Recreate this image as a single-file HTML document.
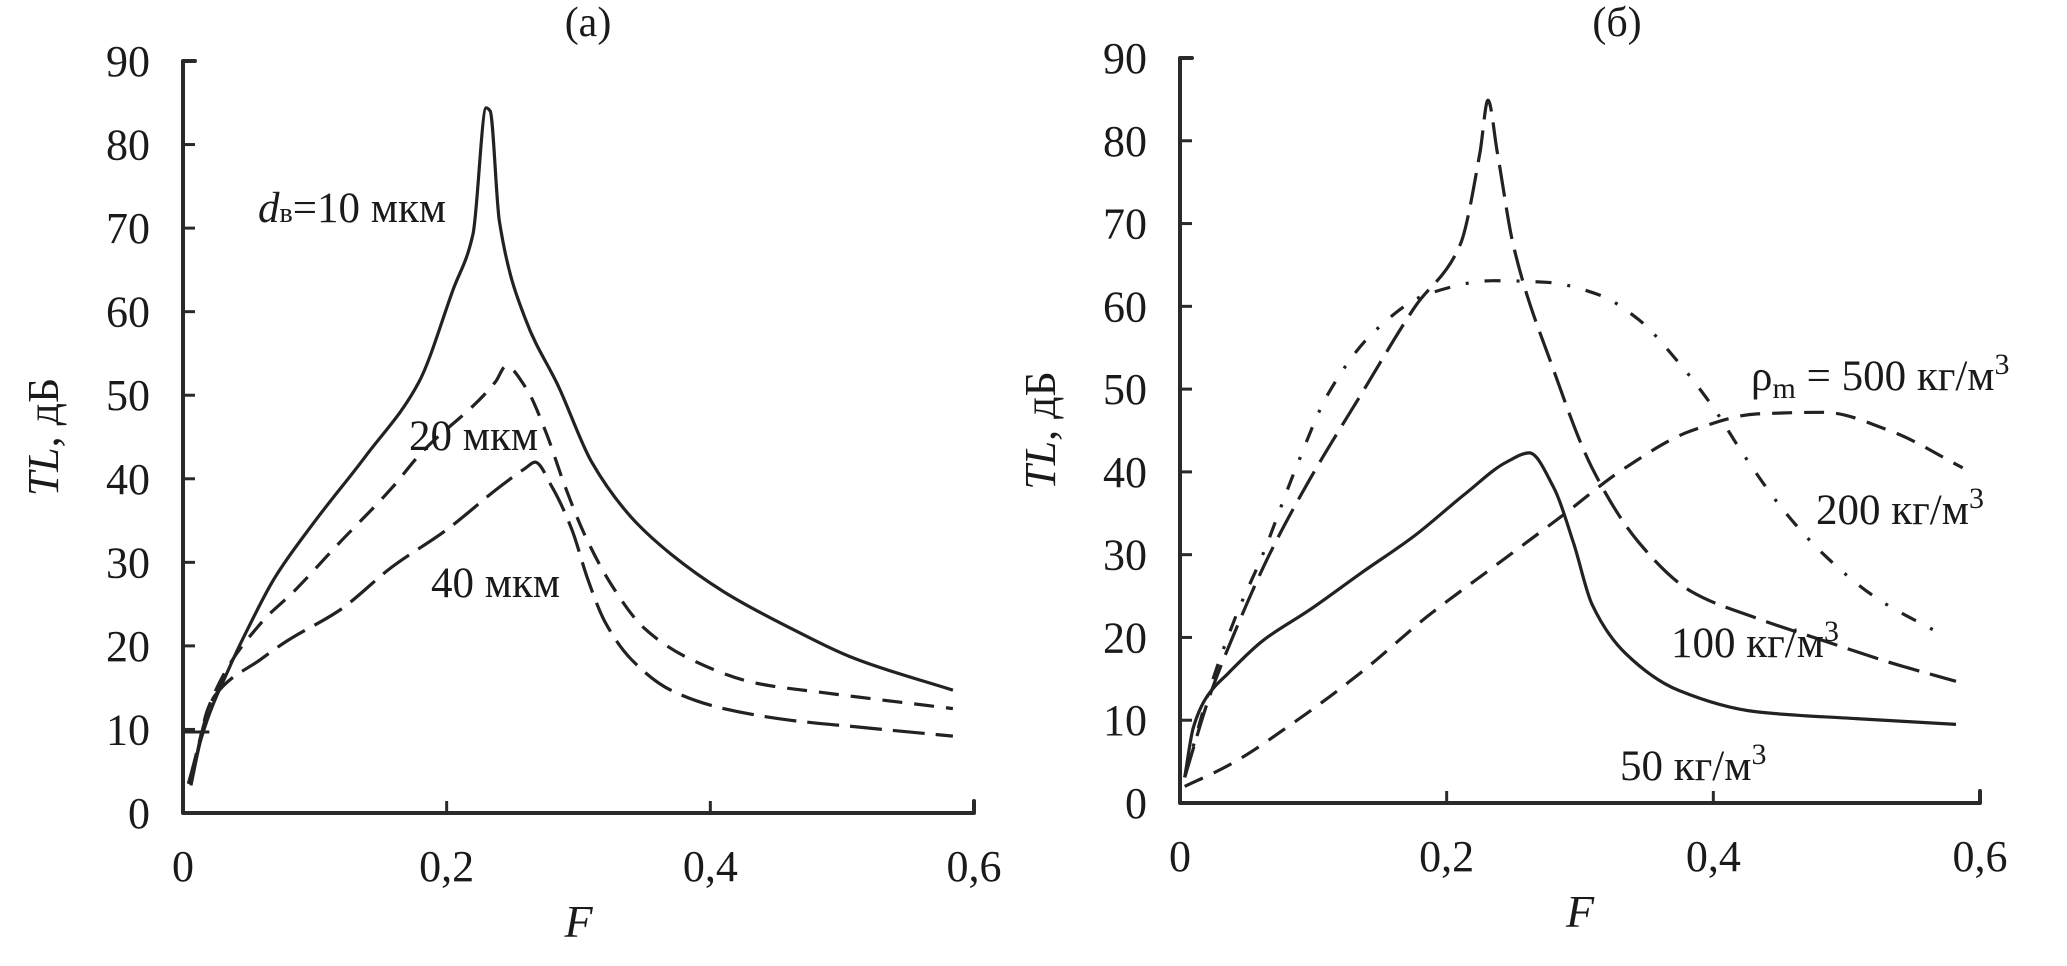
<!DOCTYPE html>
<html><head><meta charset="utf-8">
<style>
html,body{margin:0;padding:0;background:#fff;}
svg{display:block;}
text{font-family:"Liberation Serif","DejaVu Serif",serif;fill:#1a1a1a;}
</style></head>
<body>
<svg id="chart" width="2067" height="966" viewBox="0 0 2067 966" xmlns="http://www.w3.org/2000/svg"></svg>
<script>
// ---- data (a) ----
const xTicks = [0, 0.2, 0.4, 0.6];
const xTickLabels = ["0", "0,2", "0,4", "0,6"];
const yTicks = [0,10,20,30,40,50,60,70,80,90];
const aF10 = [0.006,0.0136,0.036,0.049,0.069,0.099,0.139,0.179,0.205,0.22,0.23,0.233,0.24,0.26,0.285,0.31,0.34,0.37,0.41,0.461,0.511,0.584];
const aTL10 = [3.3,8.8,17.7,22,28,34.7,42.8,51.6,62.7,69.3,84.4,84,70.8,59,51,42,35.4,31,26.5,22.1,18.4,14.7];
const aF20 = [0.006,0.019,0.059,0.084,0.119,0.159,0.179,0.237,0.245,0.26,0.275,0.29,0.305,0.325,0.35,0.385,0.436,0.486,0.584];
const aTL20 = [3.5,12.5,22.7,26.5,32.4,39,42.8,51.6,53.5,50.9,45.7,39,33.2,27.3,22.1,18.4,15.5,14.4,12.5];
const aF40 = [0.004,0.024,0.059,0.079,0.119,0.159,0.2,0.24,0.26,0.267,0.28,0.295,0.307,0.32,0.34,0.37,0.41,0.461,0.511,0.584];
const aTL40 = [3.5,14,18.4,20.6,24.3,29.5,33.9,39,41.3,42,39,33.9,28,22.9,18.4,14.7,12.5,11.1,10.3,9.2];
// ---- data (б) ----
const bF50 = [0.0035,0.01,0.02,0.037,0.062,0.097,0.136,0.176,0.215,0.245,0.262,0.28,0.295,0.309,0.334,0.374,0.433,0.507,0.582];
const bTL50 = [3.1,9.1,12.8,15.8,19.6,23.3,27.8,32.3,37.5,41.2,42.3,38.2,31.5,24,18.1,13.6,11,10.2,9.5];
const bF100 = [0.0035,0.022,0.042,0.067,0.097,0.136,0.176,0.21,0.225,0.231,0.238,0.25,0.28,0.309,0.344,0.384,0.433,0.483,0.532,0.582];
const bTL100 = [3.1,12.8,21,30,39,49.4,59.9,67.4,78.6,84.9,78.6,67.4,52.4,40.5,31.5,25.5,22.3,19.6,17,14.7];
const bF200 = [0.0035,0.022,0.042,0.062,0.087,0.111,0.146,0.186,0.235,0.275,0.314,0.344,0.374,0.399,0.423,0.453,0.483,0.522,0.572];
const bTL200 = [3.1,13.6,22.6,30,40.5,49.4,57,61.5,63.1,62.9,61.4,58.4,53.2,48,42,35.3,30,24.8,20.3];
const bF500 = [0.0035,0.037,0.087,0.136,0.186,0.235,0.285,0.334,0.384,0.433,0.483,0.532,0.587];
const bTL500 = [2,4.6,9.9,15.8,22.6,28.5,34.5,40.5,45,47,47.2,45,40.5];

const NS = "http://www.w3.org/2000/svg";
const svg = document.getElementById('chart');
function mk(tag, attrs, parent){
  const e = document.createElementNS(NS, tag);
  for (const k in attrs) e.setAttribute(k, attrs[k]);
  (parent||svg).appendChild(e);
  return e;
}
// monotone cubic (Fritsch-Carlson) in screen coords, x increasing
function smooth(pts){
  const n = pts.length, dx=[], m=[], t=[];
  for (let i=0;i<n-1;i++){ dx[i]=pts[i+1][0]-pts[i][0]; m[i]=(pts[i+1][1]-pts[i][1])/dx[i]; }
  t[0]=m[0]; t[n-1]=m[n-2];
  for (let i=1;i<n-1;i++){
    if (m[i-1]*m[i]<=0) t[i]=0;
    else { const w1=2*dx[i]+dx[i-1], w2=dx[i]+2*dx[i-1]; t[i]=(w1+w2)/(w1/m[i-1]+w2/m[i]); }
  }
  let d = "M"+pts[0][0].toFixed(1)+","+pts[0][1].toFixed(1);
  for (let i=0;i<n-1;i++){
    const h=dx[i]/3;
    d+=" C"+(pts[i][0]+h).toFixed(1)+","+(pts[i][1]+t[i]*h).toFixed(1)+" "+(pts[i+1][0]-h).toFixed(1)+","+(pts[i+1][1]-t[i+1]*h).toFixed(1)+" "+pts[i+1][0].toFixed(1)+","+pts[i+1][1].toFixed(1);
  }
  return d;
}
function panel(p){
  const g = mk('g', {});
  
  
  const sx = v => p.x0 + (p.x1-p.x0)*v/0.6;
  const sy = v => p.y0 - (p.y0-p.y90)*v/90;
  const ax = mk('path', {d:`M${p.x0+12},${p.y90} H${p.x0} V${p.y0} H${p.x1} V${p.y0-12}`, fill:'none', stroke:'#2a2a2a','stroke-width':4,'stroke-linejoin':'round','stroke-linecap':'round'}, g);
  
  
  yTicks.forEach(v=>{
    const tk = mk('line',{x1:p.x0,x2:p.x0+12,y1:sy(v),y2:sy(v),stroke:'#2a2a2a','stroke-width':3},g);
    
    
    const t = mk('text',{x:p.x0-33,y:sy(v)+15,'text-anchor':'end','font-size':44},g);
    t.textContent = String(v);
    
    
  });
  xTicks.forEach((v,i)=>{
    if (v>0 && v<0.6){
      const tk = mk('line',{x1:sx(v),x2:sx(v),y1:p.y0,y2:p.y0-12,stroke:'#2a2a2a','stroke-width':3},g);
      
      
    }
    const t = mk('text',{x:sx(v),y:p.y0+68,'text-anchor':'middle','font-size':44},g);
    t.textContent = xTickLabels[i];
    
    
  });
  const xt = mk('text',{x:(p.x0+p.x1)/2,y:p.y0+124,'text-anchor':'middle','font-size':46,'font-style':'italic'},g);
  xt.textContent='F';
  
  
  const yt = mk('text',{x:0,y:0,'text-anchor':'middle','font-size':44,transform:`translate(${p.x0-125},${(p.y0+p.y90)/2}) rotate(-90)`},g);
  yt.innerHTML='<tspan font-style="italic">TL</tspan>, дБ';
  
  
  const tt = mk('text',{x:p.tx,y:36,'text-anchor':'middle','font-size':42},g);
  tt.textContent=p.title;
  
  
  p.series.forEach(s=>{
    const pts = s.f.map((f,i)=>[sx(f), sy(s.tl[i])]);
    const path = mk('path',{d:smooth(pts),fill:'none',stroke:'#222','stroke-width':3.2,'stroke-dasharray':s.dash,'stroke-linecap':'butt'},g);
    
    
  });
  return {g,sx,sy};
}
const A = panel({name:'panel-a',x0:183,x1:974,y0:813,y90:61,tx:588,title:'(a)',series:[
  {name:'line-10-mkm',f:aF10,tl:aTL10,dash:'none'},
  {name:'line-20-mkm',f:aF20,tl:aTL20,dash:'20 12'},
  {name:'line-40-mkm',f:aF40,tl:aTL40,dash:'32 11'}]});
const stub = mk('line',{x1:183,x2:A.sx(0.02),y1:A.sy(9.7),y2:A.sy(9.7),stroke:'#222','stroke-width':3},A.g);


const B = panel({name:'panel-b',x0:1180,x1:1980,y0:803,y90:58,tx:1617,title:'(б)',series:[
  {name:'line-50-kg',f:bF50,tl:bTL50,dash:'none'},
  {name:'line-100-kg',f:bF100,tl:bTL100,dash:'32 11'},
  {name:'line-200-kg',f:bF200,tl:bTL200,dash:'16 16 3 16'},
  {name:'line-500-kg',f:bF500,tl:bTL500,dash:'20 12'}]});
function label(g, x, y, html, name){
  const t = mk('text',{x:x,y:y,'font-size':43},g);
  t.innerHTML = html;
  
  
}
label(A.g, 258, 222, '<tspan font-style="italic">d</tspan><tspan font-size="28">в</tspan>=10 мкм', 'label-10-mkm');
label(A.g, 409, 450, '20 мкм', 'label-20-mkm');
label(A.g, 431, 597, '40 мкм', 'label-40-mkm');
label(B.g, 1751, 390, 'ρ<tspan font-size="30" dy="8">m</tspan><tspan dy="-8"> = 500 кг/м</tspan><tspan font-size="30" dy="-16">3</tspan>', 'label-500-kg');
label(B.g, 1816, 524, '200 кг/м<tspan font-size="30" dy="-16">3</tspan>', 'label-200-kg');
label(B.g, 1671, 657, '100 кг/м<tspan font-size="30" dy="-16">3</tspan>', 'label-100-kg');
label(B.g, 1620, 780, '50 кг/м<tspan font-size="30" dy="-16">3</tspan>', 'label-50-kg');
</script>
</body></html>
